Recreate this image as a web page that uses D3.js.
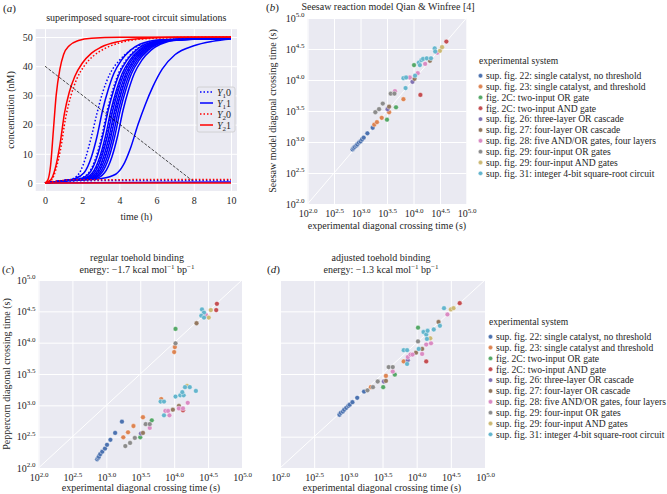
<!DOCTYPE html>
<html><head><meta charset="utf-8">
<script src="https://cdn.jsdelivr.net/npm/d3@7"></script>
<style>body{margin:0;background:#fff}svg{display:block}</style>
</head><body><svg id="c" width="667" height="494"></svg>
<script>
// ------------------ DATA ------------------
const timeTicks = [0, 2, 4, 6, 8, 10];
const concTicks = [0, 10, 20, 30, 40, 50];
const logTicks = [2.0, 2.5, 3.0, 3.5, 4.0, 4.5, 5.0];

// panel (a): Y1 1 (solid blue) curves, [time h, conc nM]
const y1One = [
  [[0,0],[1,0.8],[1.6,1.5],[2.1,3.5],[2.5,9],[2.8,16],[3.1,25],[3.4,32],[3.7,37.5],[4.1,42],[4.6,45.5],[5.1,47.5],[6.1,49],[10,49.7]],
  [[0,0],[1,0.8],[1.9,1.5],[2.4,3.5],[2.8,9],[3.1,16],[3.4,25],[3.7,32],[4.0,37.5],[4.4,42],[4.9,45.5],[5.4,47.5],[6.4,49],[10,49.7]],
  [[0,0],[1,0.8],[2.05,1.5],[2.55,3.5],[2.95,9],[3.25,16],[3.55,25],[3.85,32],[4.15,37.5],[4.55,42],[5.05,45.5],[5.55,47.5],[6.55,49],[10,49.7]],
  [[0,0],[1,0.8],[2.15,1.5],[2.65,3.5],[3.05,9],[3.35,16],[3.65,25],[3.95,32],[4.25,37.5],[4.65,42],[5.15,45.5],[5.65,47.5],[6.65,49],[10,49.6]],
  [[0,0],[1,0.8],[2.25,1.5],[2.75,3.5],[3.15,9],[3.45,16],[3.75,25],[4.05,32],[4.35,37.5],[4.75,42],[5.25,45.5],[5.75,47.5],[6.75,49],[10,49.6]],
  [[0,0],[1,0.8],[2.35,1.5],[2.85,3.5],[3.25,9],[3.55,16],[3.85,25],[4.15,32],[4.45,37.5],[4.85,42],[5.35,45.5],[5.85,47.5],[6.85,49],[10,49.6]],
  [[0,0],[1,0.8],[2.45,1.5],[2.95,3.5],[3.35,9],[3.65,16],[3.95,25],[4.25,32],[4.55,37.5],[4.95,42],[5.45,45.5],[5.95,47.5],[6.95,49],[10,49.5]],
  [[0,0],[1,0.8],[2.55,1.5],[3.05,3.5],[3.45,9],[3.75,16],[4.05,25],[4.35,32],[4.65,37.5],[5.05,42],[5.55,45.5],[6.05,47.5],[7.05,49],[10,49.5]],
  [[0,0],[1,0.8],[2.7,1.5],[3.2,3.5],[3.6,9],[3.9,16],[4.2,25],[4.5,32],[4.8,37.5],[5.2,42],[5.7,45.5],[6.2,47.5],[7.2,49],[10,49.5]],
  [[0,0],[1,0.6],[2,1],[3,1.5],[3.8,3],[4.2,6],[4.6,12],[5.0,20],[5.4,27],[5.8,33],[6.3,39],[7,44],[8,47],[9,48.5],[10,49.3]],
  [[0,0],[10,0.3]]
];
// Y1 0 (dotted blue)
const y1Zero = [
  [[0,0],[0.8,0.5],[1.5,1.5],[1.9,4],[2.2,9],[2.5,16],[2.8,24],[3.1,31],[3.5,37.5],[4.0,42],[4.5,45],[5.2,47.5],[6.5,49.2],[10,49.8]],
  [[0,0],[1,0.8],[1.85,1.5],[2.35,3.5],[2.75,9],[3.05,16],[3.35,25],[3.65,32],[3.95,37.5],[4.35,42],[4.85,45.5],[5.35,47.5],[6.35,49],[10,49.7]],
  [[0,0],[1,0.8],[2.1,1.5],[2.6,3.5],[3.0,9],[3.3,16],[3.6,25],[3.9,32],[4.2,37.5],[4.6,42],[5.1,45.5],[5.6,47.5],[6.6,49],[10,49.6]],
  [[0,0],[1,0.8],[2.3,1.5],[2.8,3.5],[3.2,9],[3.5,16],[3.8,25],[4.1,32],[4.4,37.5],[4.8,42],[5.3,45.5],[5.8,47.5],[6.8,49],[10,49.6]],
  [[0,0],[1,0.5],[2,0.8],[10,0.9]]
];
// Y2 1 (solid red)
const y2One = [
  [[0,0],[0.15,1],[0.3,6],[0.45,18],[0.6,30],[0.8,39],[1.0,44],[1.3,47],[1.8,48.8],[2.5,49.6],[4,49.9],[10,50]],
  [[0,0],[0.3,1],[0.55,5],[0.8,13],[1.05,24],[1.3,31],[1.6,36.5],[2.0,41],[2.5,44.5],[3.0,46.5],[4,48.5],[5,49.4],[7,49.9],[10,50]],
  [[0,0],[10,0]]
];
// Y2 0 (dotted red)
const y2Zero = [
  [[0,0],[0.35,1],[0.6,5],[0.85,12],[1.1,22],[1.4,30],[1.7,35.5],[2.1,40],[2.6,43.5],[3.2,46],[4,48],[5,49.2],[7,49.8],[10,50]],
  [[0,0],[0.8,0.8],[1.5,1.1],[10,1.2]]
];
const crossingLine = [[0,40],[7.9,0.9]];

const systemsB = [
  "sup. fig. 22: single catalyst, no threshold",
  "sup. fig. 23: single catalyst, and threshold",
  "fig. 2C: two-input OR gate",
  "fig. 2C: two-input AND gate",
  "sup. fig. 26: three-layer OR cascade",
  "sup. fig. 27: four-layer OR cascade",
  "sup. fig. 28: five AND/OR gates, four layers",
  "sup. fig. 29: four-input OR gates",
  "sup. fig. 29: four-input AND gates",
  "sup. fig. 31: integer 4-bit square-root circuit"
];
const systemsD = [
  "sup. fig. 22: single catalyst, no threshold",
  "sup. fig. 23: single catalyst and threshold",
  "fig. 2C: two-input OR gate",
  "fig. 2C: two-input AND gate",
  "sup. fig. 26: three-layer OR cascade",
  "sup. fig. 27: four-layer OR cascade",
  "sup. fig. 28: five AND/OR gates, four layers",
  "sup. fig. 29: four-input OR gates",
  "sup. fig. 29: four-input AND gates",
  "sup. fig. 31: integer 4-bit square-root circuit"
];
const palette = ["#4c72b0","#dd8452","#55a868","#c44e52","#8172b3","#937860","#da8bc3","#8c8c8c","#ccb974","#64b5cd"];

// [system index, log10 experimental time, log10 model time]
const seesawPts = [
  [0,2.85,2.88],[0,2.87,2.90],[0,2.89,2.92],[0,2.92,2.94],[0,2.94,2.96],[0,2.97,2.99],[0,3.00,3.01],[0,3.03,3.04],[0,3.06,3.07],[0,3.13,3.14],[0,3.23,3.23],
  [1,3.26,3.28],[1,3.31,3.32],[1,3.40,3.39],[1,3.54,3.48],[1,3.81,3.69],
  [2,3.50,3.36],[2,3.67,3.56],[2,4.01,4.24],
  [3,4.13,3.76],[3,4.62,4.62],
  [4,3.51,3.53],[4,3.98,3.97],
  [5,3.54,3.57],[5,4.02,4.02],[5,4.31,4.31],
  [6,3.65,3.82],[6,3.93,4.04],[6,4.08,4.11],[6,4.22,4.26],[6,4.45,4.44],
  [7,3.28,3.48],[7,3.35,3.53],[7,3.42,3.62],[7,3.57,3.78],[7,3.64,3.78],
  [8,4.50,4.47],[8,4.54,4.53],
  [9,3.81,4.03],[9,3.86,4.04],[9,3.85,3.87],[9,4.03,4.07],[9,4.10,4.28],[9,4.15,4.32],[9,4.18,4.34],[9,4.25,4.35],[9,4.33,4.35],[9,4.12,4.24],[9,4.40,4.51],[9,4.41,4.46]
];
const regularPts = [
  [0,2.865,2.14],[0,2.88,2.16],[0,2.89,2.18],[0,2.91,2.22],[0,2.94,2.26],[0,2.98,2.31],[0,3.01,2.37],[0,3.06,2.45],[0,3.13,2.56],[0,3.23,2.74],
  [1,3.25,2.49],[1,3.32,2.57],[1,3.40,2.67],[1,3.54,2.81],[1,3.81,3.10],[1,4.00,3.85],[1,4.01,3.93],
  [2,3.50,2.49],[2,3.67,2.76],[2,4.02,4.22],
  [3,4.13,2.92],[3,4.63,4.62],[3,4.62,4.52],
  [4,3.51,2.55],
  [5,3.54,2.56],[5,3.98,2.93],[5,4.07,2.99],[5,4.33,4.31],
  [6,3.64,2.64],[6,3.87,2.91],[6,3.91,2.91],[6,3.93,2.84],[6,4.07,2.95],[6,4.13,2.95],[6,4.20,3.04],[6,4.47,4.44],
  [7,3.28,2.35],[7,3.35,2.40],[7,3.42,2.48],[7,3.58,2.70],[7,3.64,2.70],[7,4.02,3.99],
  [8,4.19,3.31],[8,4.54,4.52],[8,4.51,4.40],
  [9,3.80,3.06],[9,3.85,3.06],[9,3.85,2.84],[9,4.02,3.14],[9,4.09,3.16],[9,4.14,3.16],[9,4.12,3.21],[9,4.16,3.29],[9,4.23,3.29],[9,4.32,3.23],[9,4.41,4.53],[9,4.44,4.48],[9,4.40,4.43],[9,4.44,4.40]
];
const adjustedPts = [
  [0,2.87,2.85],[0,2.89,2.88],[0,2.92,2.90],[0,2.94,2.93],[0,2.97,2.96],[0,3.00,2.99],[0,3.02,3.01],[0,3.06,3.05],[0,3.13,3.12],[0,3.23,3.22],
  [1,3.33,3.29],[1,3.55,3.47],[1,3.81,3.70],
  [2,3.51,3.29],[2,3.68,3.49],[2,4.02,4.24],
  [3,4.14,3.70],[3,4.63,4.63],
  [4,3.52,3.38],[4,3.87,3.72],
  [5,3.55,3.39],[5,3.99,3.84],[5,4.08,3.90],[5,4.32,4.33],
  [6,3.65,3.54],[6,3.87,3.77],[6,3.91,3.81],[6,3.94,3.81],[6,4.08,3.82],[6,4.14,3.97],[6,4.21,3.99],[6,4.45,4.45],
  [7,3.28,3.24],[7,3.36,3.29],[7,3.43,3.38],[7,3.59,3.61],[7,3.65,3.61],[7,4.02,4.02],
  [8,4.20,4.07],[8,4.50,4.53],[8,4.54,4.55],
  [9,3.81,3.88],[9,3.86,3.88],[9,3.86,3.66],[9,4.03,3.90],[9,4.10,4.17],[9,4.14,4.13],[9,4.16,4.19],[9,4.15,4.06],[9,4.25,4.21],[9,4.34,4.27],[9,4.40,4.55]
];

// ------------------ DRAWING ------------------
const FONT = '"Liberation Serif","Times New Roman",serif';
const BG = '#eaeaf2';
const svg = d3.select('#c').attr('font-family', FONT);

function frame(x0, x1, yTop, yBot){
  svg.append('rect').attr('x',x0).attr('y',yTop).attr('width',x1-x0).attr('height',yBot-yTop).attr('fill',BG);
}
function grid(xs, ys, xT, yT, x0, x1, yTop, yBot){
  svg.append('g').attr('transform',`translate(0,${yBot})`)
    .call(d3.axisBottom(xs).tickValues(xT).tickSize(-(yBot-yTop)).tickFormat(''))
    .call(g=>{g.select('.domain').remove(); g.selectAll('line').attr('stroke','#fff').attr('stroke-width',1);});
  svg.append('g').attr('transform',`translate(${x0},0)`)
    .call(d3.axisLeft(ys).tickValues(yT).tickSize(-(x1-x0)).tickFormat(''))
    .call(g=>{g.select('.domain').remove(); g.selectAll('line').attr('stroke','#fff').attr('stroke-width',1);});
}
function styleAxis(g){
  g.select('.domain').remove();
  g.attr('font-family', FONT).attr('font-size', 10);
  g.selectAll('text').attr('fill','#262626');
}
function supLabels(g){
  g.selectAll('.tick text').each(function(d){
    const t = d3.select(this); t.text(null);
    t.append('tspan').text('10');
    t.append('tspan').attr('dy', -4.5).attr('font-size', 7).text(d3.format('.1f')(d));
  });
}

// ---- panel (a) ----
const ax = d3.scaleLinear().domain([0,10]).range([45,231]);
const ay = d3.scaleLinear().domain([0,50]).range([183,37]);
const A = {x0: ax(-0.5), x1: 237, top: ay(52.7), bot: ay(-2.7)};
frame(A.x0, A.x1, A.top, A.bot);
grid(ax, ay, timeTicks, concTicks, A.x0, A.x1, A.top, A.bot);
svg.append('g').attr('transform',`translate(0,${A.bot})`)
  .call(d3.axisBottom(ax).tickValues(timeTicks).tickSize(0).tickPadding(6)).call(styleAxis);
svg.append('g').attr('transform',`translate(${A.x0},0)`)
  .call(d3.axisLeft(ay).tickValues(concTicks).tickSize(0).tickPadding(3)).call(styleAxis);

const lineA = d3.line().x(d=>ax(d[0])).y(d=>ay(d[1])).curve(d3.curveMonotoneX);
const gA = svg.append('g');
function drawCurves(set, color, dash){
  set.forEach(c=>{
    gA.append('path').attr('d', lineA(c)).attr('fill','none').attr('stroke',color)
      .attr('stroke-width',1.5).attr('stroke-dasharray', dash);
  });
}
drawCurves(y1One, '#0000ff', null);
drawCurves(y1Zero, '#0000ff', '1.5,2');
drawCurves(y2One, '#ff0000', null);
drawCurves(y2Zero, '#ff0000', '1.5,2');
gA.append('path').attr('d', d3.line().x(d=>ax(d[0])).y(d=>ay(d[1]))(crossingLine))
  .attr('fill','none').attr('stroke','#000').attr('stroke-width',0.7).attr('stroke-dasharray','3,1.5');

// legend (a)
const legA = svg.append('g').attr('transform','translate(197,87)');
legA.append('rect').attr('width',38).attr('height',45).attr('rx',2).attr('fill','#eaeaf2').attr('fill-opacity',0.85).attr('stroke','#cccccc').attr('stroke-width',0.8);
const legAItems = [['1','0','#0000ff','1.5,2'],['1','1','#0000ff',null],['2','0','#ff0000','1.5,2'],['2','1','#ff0000',null]];
legAItems.forEach((it,i)=>{
  const yy = 5 + i*11;
  legA.append('line').attr('x1',3).attr('x2',16).attr('y1',yy).attr('y2',yy).attr('stroke',it[2]).attr('stroke-width',1.5).attr('stroke-dasharray',it[3]);
  const t = legA.append('text').attr('x',20).attr('y',yy+3.5).attr('font-size',10).attr('fill','#262626');
  t.append('tspan').attr('font-style','italic').text('Y');
  t.append('tspan').attr('dy',2.5).attr('font-size',7).text(it[0]);
  t.append('tspan').attr('dy',-2.5).text(it[1]);
});

svg.append('text').attr('x',3).attr('y',12).attr('font-size',11).attr('fill','#222').html('(<tspan font-style="italic">a</tspan>)');
svg.append('text').attr('x',(A.x0+A.x1)/2).attr('y',21).attr('text-anchor','middle').attr('font-size',10).attr('fill','#262626').text('superimposed square-root circuit simulations');
svg.append('text').attr('x',(A.x0+A.x1)/2).attr('y',220).attr('text-anchor','middle').attr('font-size',10).attr('fill','#262626').text('time (h)');
svg.append('text').attr('transform',`translate(14,${(A.top+A.bot)/2}) rotate(-90)`).attr('text-anchor','middle').attr('font-size',10).attr('fill','#262626').text('concentration (nM)');

// ---- log panels ----
function logPanel(xr, yr, pts, showY){
  const xs = d3.scaleLinear().domain([2,5]).range(xr);
  const ys = d3.scaleLinear().domain([2,5]).range(yr);
  frame(xr[0], xr[1], yr[1], yr[0]);
  grid(xs, ys, logTicks, logTicks, xr[0], xr[1], yr[1], yr[0]);
  svg.append('line').attr('x1',xs(2)).attr('y1',ys(2)).attr('x2',xs(5)).attr('y2',ys(5)).attr('stroke','#fff').attr('stroke-width',1);
  svg.append('g').attr('transform',`translate(0,${yr[0]})`)
    .call(d3.axisBottom(xs).tickValues(logTicks).tickSize(0).tickPadding(6)).call(styleAxis).call(supLabels);
  if (showY) {
    svg.append('g').attr('transform',`translate(${xr[0]},0)`)
      .call(d3.axisLeft(ys).tickValues(logTicks).tickSize(0).tickPadding(3)).call(styleAxis).call(supLabels);
  }
  svg.append('g').selectAll('circle').data(pts).join('circle')
    .attr('cx',d=>xs(d[1])).attr('cy',d=>ys(d[2])).attr('r',2.4)
    .attr('fill',d=>palette[d[0]]).attr('stroke','#fff').attr('stroke-width',0.4);
  return {xs, ys};
}
function legend(x, y, title, items, dx){
  const g = svg.append('g').attr('transform',`translate(${x},${y})`).attr('font-size',9.6).attr('fill','#262626');
  g.append('text').attr('x',0).attr('y',0).text(title);
  items.forEach((s,i)=>{
    const yy = 11.7 + i*10.85;
    g.append('circle').attr('cx',1.5).attr('cy',yy).attr('r',2.2).attr('fill',palette[i]).attr('stroke','#fff').attr('stroke-width',0.4);
    g.append('text').attr('x',dx).attr('y',yy+3.3).text(s);
  });
}

// (b)
logPanel([307.5,466.5],[204,18], seesawPts, true);
svg.append('text').attr('x',266).attr('y',11).attr('font-size',11).attr('fill','#222').html('(<tspan font-style="italic">b</tspan>)');
svg.append('text').attr('x',388).attr('y',10).attr('text-anchor','middle').attr('font-size',10).attr('fill','#262626').text('Seesaw reaction model Qian & Winfree [4]');
svg.append('text').attr('x',387).attr('y',229).attr('text-anchor','middle').attr('font-size',10).attr('fill','#262626').text('experimental diagonal crossing time (s)');
svg.append('text').attr('transform',`translate(276,111) rotate(-90)`).attr('text-anchor','middle').attr('font-size',10).attr('fill','#262626').text('Seesaw model diagonal crossing time (s)');
legend(479, 64, 'experimental system', systemsB, 7);

// (c)
logPanel([38.5,242],[468,280], regularPts, true);
svg.append('text').attr('x',2).attr('y',273).attr('font-size',11).attr('fill','#222').html('(<tspan font-style="italic">c</tspan>)');
svg.append('text').attr('x',137).attr('y',260.5).attr('text-anchor','middle').attr('font-size',10).attr('fill','#262626').text('regular toehold binding');
svg.append('text').attr('x',137).attr('y',273).attr('text-anchor','middle').attr('font-size',10).attr('fill','#262626')
  .html('energy: −1.7 kcal mol<tspan dy="-4" font-size="7">−1</tspan><tspan dy="4"> bp</tspan><tspan dy="-4" font-size="7">−1</tspan>');
svg.append('text').attr('x',141).attr('y',491).attr('text-anchor','middle').attr('font-size',10).attr('fill','#262626').text('experimental diagonal crossing time (s)');
svg.append('text').attr('transform',`translate(10,374) rotate(-90)`).attr('text-anchor','middle').attr('font-size',10).attr('fill','#262626').text('Peppercorn diagonal crossing time (s)');

// (d)
logPanel([280,485],[468,280], adjustedPts, false);
svg.append('text').attr('x',267).attr('y',273).attr('font-size',11).attr('fill','#222').html('(<tspan font-style="italic">d</tspan>)');
svg.append('text').attr('x',381).attr('y',260.5).attr('text-anchor','middle').attr('font-size',10).attr('fill','#262626').text('adjusted toehold binding');
svg.append('text').attr('x',381).attr('y',273).attr('text-anchor','middle').attr('font-size',10).attr('fill','#262626')
  .html('energy: −1.3 kcal mol<tspan dy="-4" font-size="7">−1</tspan><tspan dy="4"> bp</tspan><tspan dy="-4" font-size="7">−1</tspan>');
svg.append('text').attr('x',382).attr('y',491).attr('text-anchor','middle').attr('font-size',10).attr('fill','#262626').text('experimental diagonal crossing time (s)');
legend(489, 325, 'experimental system', systemsD, 7);
</script></body></html>
